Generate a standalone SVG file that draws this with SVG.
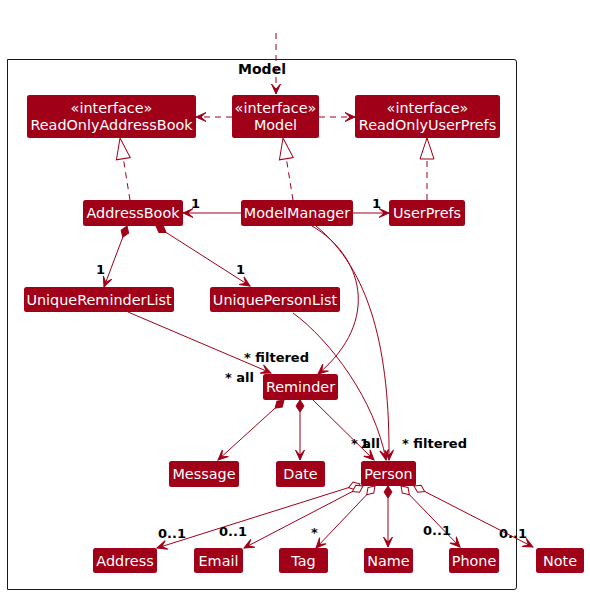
<svg xmlns="http://www.w3.org/2000/svg" width="590" height="595" viewBox="0 0 590 595">
<style>
.node rect{fill:#A00018;stroke:none}
.node text{fill:#fff;font-family:"DejaVu Sans",sans-serif;font-size:14.4px;text-anchor:middle}
.lbl{font-family:"DejaVu Sans",sans-serif;font-weight:bold;font-size:13px;fill:#000}
.edge{fill:none;stroke:#A00018;stroke-width:1}
.dash{stroke-dasharray:6,5}
</style>
<defs>
<marker id="arr" markerUnits="userSpaceOnUse" viewBox="-11 -6 12 12" refX="0" refY="0" markerWidth="12" markerHeight="12" orient="auto">
<path d="M0,0 L-10,-4.5 L-5,0 L-10,4.5 Z" fill="#A00018" stroke="#A00018" stroke-width="1" stroke-linejoin="miter"/>
</marker>
<marker id="tri" markerUnits="userSpaceOnUse" viewBox="-23 -9 24 18" refX="0" refY="0" markerWidth="24" markerHeight="18" orient="auto">
<path d="M0,0 L-21,-7 L-21,7 Z" fill="#fff" stroke="#A00018" stroke-width="1"/>
</marker>
<marker id="dia" markerUnits="userSpaceOnUse" viewBox="-1 -5 14 10" refX="0" refY="0" markerWidth="14" markerHeight="10" orient="auto">
<path d="M0,0 L6,-4 L12,0 L6,4 Z" fill="#A00018" stroke="#A00018" stroke-width="1"/>
</marker>
<marker id="odia" markerUnits="userSpaceOnUse" viewBox="-1 -5 14 10" refX="0" refY="0" markerWidth="14" markerHeight="10" orient="auto">
<path d="M0,0 L6,-4 L12,0 L6,4 Z" fill="#fff" stroke="#A00018" stroke-width="1"/>
</marker>
</defs>
<rect width="590" height="595" fill="#fff"/>
<g id="package-Model">
<path d="M7.5,59.5 H514 Q516.5,59.5 516.5,62 V587 Q516.5,589.5 514,589.5 H7.5 Z" fill="none" stroke="#181818" stroke-width="1"/>
<text x="262" y="74" text-anchor="middle" font-family="DejaVu Sans,sans-serif" font-weight="bold" font-size="14" fill="#000">Model</text>
</g>
<g id="connectors">
<path class="edge dash" d="M276,33 L276,94" marker-end="url(#arr)"/>
<path class="edge dash" d="M232,117 L196,117" marker-end="url(#arr)"/>
<path class="edge dash" d="M319,117 L355,117" marker-end="url(#arr)"/>
<path class="edge dash" d="M130,200 L120,138" marker-end="url(#tri)"/>
<path class="edge dash" d="M293,200 L283,138" marker-end="url(#tri)"/>
<path class="edge dash" d="M427,200 L427,138" marker-end="url(#tri)"/>
<path class="edge" d="M241,213 L183,213" marker-end="url(#arr)"/>
<path class="edge" d="M353,213 L389,213" marker-end="url(#arr)"/>
<path class="edge" d="M127,226 L104,287" marker-start="url(#dia)" marker-end="url(#arr)"/>
<path class="edge" d="M156,226 L250,286" marker-start="url(#dia)" marker-end="url(#arr)"/>
<path class="edge" d="M128,312 L271,373" marker-end="url(#arr)"/>
<path class="edge" d="M312,226 C362,255 382,320 318,374" marker-end="url(#arr)"/>
<path class="edge" d="M316,226 C370,270 390,350 389,460" marker-end="url(#arr)"/>
<path class="edge" d="M293,313 C330,340 375,400 386,460" marker-end="url(#arr)"/>
<path class="edge" d="M313,400 L374,460" marker-end="url(#arr)"/>
<path class="edge" d="M284,400 L218,460" marker-start="url(#dia)" marker-end="url(#arr)"/>
<path class="edge" d="M300,400 L300,460" marker-start="url(#dia)" marker-end="url(#arr)"/>
<path class="edge" d="M388,486 L388,547" marker-start="url(#dia)" marker-end="url(#arr)"/>
<path class="edge" d="M360,484 L157,548" marker-start="url(#odia)" marker-end="url(#arr)"/>
<path class="edge" d="M363,486 L244,548" marker-start="url(#odia)" marker-end="url(#arr)"/>
<path class="edge" d="M375,486 L316,548" marker-start="url(#odia)" marker-end="url(#arr)"/>
<path class="edge" d="M401,486 L460,547" marker-start="url(#odia)" marker-end="url(#arr)"/>
<path class="edge" d="M414,486 L533,547" marker-start="url(#odia)" marker-end="url(#arr)"/>
<text class="lbl" x="191" y="208">1</text>
<text class="lbl" x="372" y="208">1</text>
<text class="lbl" x="96" y="274">1</text>
<text class="lbl" x="236" y="274">1</text>
<text class="lbl" x="244" y="362">* filtered</text>
<text class="lbl" x="225" y="382">* all</text>
<text class="lbl" x="351" y="448">* all</text>
<text class="lbl" x="360" y="448">1</text>
<text class="lbl" x="402" y="448">* filtered</text>
<text class="lbl" x="158" y="538">0..1</text>
<text class="lbl" x="219" y="536">0..1</text>
<text class="lbl" x="311" y="537">*</text>
<text class="lbl" x="423" y="535">0..1</text>
<text class="lbl" x="499" y="538">0..1</text>
</g>
<g id="ReadOnlyAddressBook" class="node"><rect x="27" y="95" width="169" height="43" rx="2.5"/><text x="111.5" y="113">«interface»</text><text x="111.5" y="130">ReadOnlyAddressBook</text></g>
<g id="Model" class="node"><rect x="232" y="95" width="87" height="43" rx="2.5"/><text x="275.5" y="113">«interface»</text><text x="275.5" y="130">Model</text></g>
<g id="ReadOnlyUserPrefs" class="node"><rect x="355" y="95" width="145" height="43" rx="2.5"/><text x="427.5" y="113">«interface»</text><text x="427.5" y="130">ReadOnlyUserPrefs</text></g>
<g id="AddressBook" class="node"><rect x="83" y="200" width="100" height="26" rx="2.5"/><text x="133" y="218">AddressBook</text></g>
<g id="ModelManager" class="node"><rect x="241" y="200" width="112" height="26" rx="2.5"/><text x="297" y="218">ModelManager</text></g>
<g id="UserPrefs" class="node"><rect x="389" y="200" width="76" height="26" rx="2.5"/><text x="427" y="218">UserPrefs</text></g>
<g id="UniqueReminderList" class="node"><rect x="24" y="287" width="150" height="25" rx="2.5"/><text x="99" y="305">UniqueReminderList</text></g>
<g id="UniquePersonList" class="node"><rect x="210" y="287" width="130" height="25" rx="2.5"/><text x="275" y="305">UniquePersonList</text></g>
<g id="Reminder" class="node"><rect x="263" y="374" width="75" height="26" rx="2.5"/><text x="300.5" y="392">Reminder</text></g>
<g id="Message" class="node"><rect x="169" y="461" width="70" height="26" rx="2.5"/><text x="204" y="479">Message</text></g>
<g id="Date" class="node"><rect x="276" y="461" width="49" height="26" rx="2.5"/><text x="300.5" y="479">Date</text></g>
<g id="Person" class="node"><rect x="361" y="461" width="55" height="25" rx="2.5"/><text x="388.5" y="479">Person</text></g>
<g id="Address" class="node"><rect x="93" y="548" width="64" height="25" rx="2.5"/><text x="125" y="566">Address</text></g>
<g id="Email" class="node"><rect x="194" y="548" width="49" height="25" rx="2.5"/><text x="218.5" y="566">Email</text></g>
<g id="Tag" class="node"><rect x="279" y="548" width="49" height="25" rx="2.5"/><text x="303.5" y="566">Tag</text></g>
<g id="Name" class="node"><rect x="364" y="548" width="49" height="25" rx="2.5"/><text x="388.5" y="566">Name</text></g>
<g id="Phone" class="node"><rect x="449" y="548" width="50" height="25" rx="2.5"/><text x="474" y="566">Phone</text></g>
<g id="Note" class="node"><rect x="536" y="548" width="48" height="25" rx="2.5"/><text x="560" y="566">Note</text></g>
</svg>
